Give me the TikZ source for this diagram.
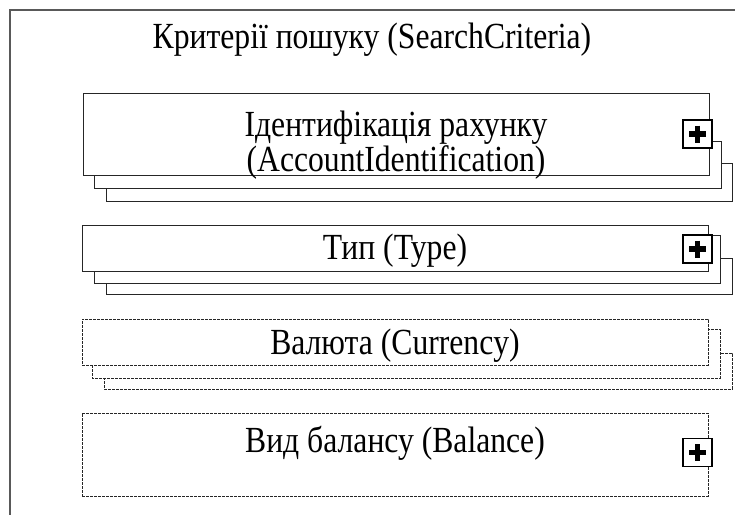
\documentclass[tikz,border=0pt]{standalone}
\usepackage{fontspec}
\setmainfont{Liberation Serif}
\newfontfamily\narrowserif[FakeStretch=0.86]{Liberation Serif}
\usepackage{tikz}
\usetikzlibrary{positioning}

\tikzset{
  frontbox/.style={draw=black!85, fill=white, line width=0.9pt, minimum width=626pt, inner sep=0pt},
  shadowbox/.style={draw=black!85, fill=white, line width=0.9pt},
  dashbox/.style={dash pattern=on 2.6pt off 1.4pt},
  lbl/.style={font=\narrowserif\fontsize{36.8}{35}\selectfont, align=center, inner sep=0pt},
  plusbox/.style={draw=black, fill=white, line width=1.8pt, minimum width=29pt, minimum height=28pt, inner sep=0pt,
    path picture={\draw[line width=5.5pt] (path picture bounding box.center) +(-8.5,0) -- +(8.5,0);
                  \draw[line width=5.5pt] (path picture bounding box.center) +(0,-8.5) -- +(0,8.5);}}
}

\begin{document}
\begin{tikzpicture}[x=1pt, y=-1pt]
\useasboundingbox (0,0) rectangle (735,514);
% outer frame
\draw[black!65, line width=2pt](10,530) -- (10,10) -- (760,10);
\node[lbl] (title) at (372,40) {Критерії пошуку (SearchCriteria)};

% AccountIdentification
\filldraw[shadowbox](106,163) rectangle (732,201);
\filldraw[shadowbox](94,141) rectangle (721,188);
\node[frontbox, minimum height=82pt] (acct) at (396,134) {};
\node[lbl] (acctlbl) at (396,145) {Ідентифікація рахунку\\(AccountIdentification)};
\node[plusbox] (acctplus) at (697.5,134) {};

% Type
\filldraw[shadowbox](106,258) rectangle (732,294);
\filldraw[shadowbox](94,235) rectangle (720,283);
\node[frontbox, minimum height=46pt] (type) at (395,248) {};
\node[lbl] (typelbl) at (395,251) {Тип (Type)};
\node[plusbox] (typeplus) at (697.5,249) {};

% Currency
\filldraw[shadowbox, dashbox](104,353) rectangle (732,389);
\filldraw[shadowbox, dashbox](92,329) rectangle (720,378);
\node[frontbox, dashbox, minimum height=46pt] (curr) at (395,342) {};
\node[lbl] (currlbl) at (395,346) {Валюта (Currency)};

% Balance
\node[frontbox, dashbox, minimum height=83pt] (bal) at (395,454.5) {};
\node[lbl] (ballbl) at (395,443) {Вид балансу (Balance)};
\node[plusbox] (balplus) at (697.5,452.5) {};
\end{tikzpicture}
\end{document}
